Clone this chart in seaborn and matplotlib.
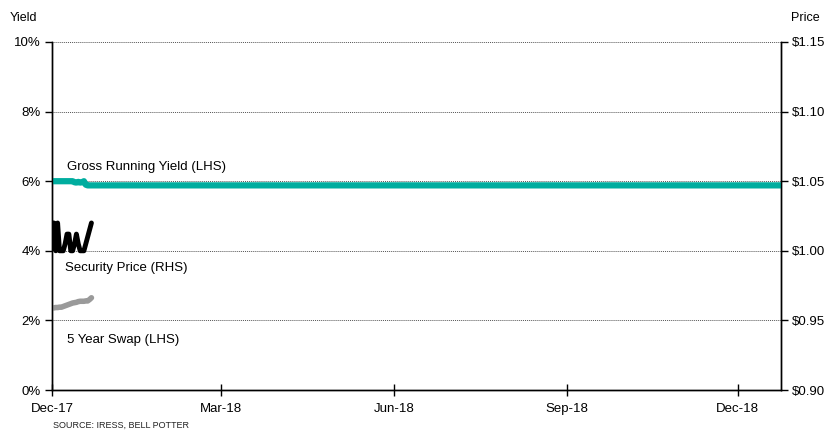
import pandas as pd
import seaborn as sns
import matplotlib.pyplot as plt
from matplotlib.ticker import FuncFormatter

# Early daily readings (Dec 2017)
early_dates = pd.date_range("2017-12-01", "2017-12-22", freq="D")
price = [1.020, 1.020, 1.000, 1.020, 1.000, 1.000, 1.000, 1.005, 1.012, 1.012, 1.000,
         1.000, 1.005, 1.012, 1.005, 1.000, 1.000, 1.000, 1.005, 1.010, 1.015, 1.020]
swap = [2.36, 2.36, 2.37, 2.37, 2.38, 2.38, 2.40, 2.42, 2.44, 2.46, 2.48,
        2.50, 2.51, 2.52, 2.54, 2.55, 2.55, 2.55, 2.56, 2.56, 2.60, 2.65]
yield_early = [6.00, 6.00, 6.00, 6.00, 6.00, 6.00, 6.00, 6.00, 6.00, 6.00, 6.00,
               6.00, 5.97, 5.96, 5.98, 5.96, 5.97, 6.00, 5.90, 5.88, 5.88, 5.88]
# Gross running yield held flat for the rest of the period
yield_late_dates = pd.to_datetime(["2018-12-24"])
yield_late = [5.88]

tick_dates = pd.to_datetime(["2017-12-01", "2018-03-01", "2018-06-01", "2018-09-01", "2018-12-01"])
tick_labels = ["Dec-17", "Mar-18", "Jun-18", "Sep-18", "Dec-18"]

df_short = pd.DataFrame({"date": early_dates, "price": price, "swap": swap})
df_yield = pd.DataFrame({
    "date": list(early_dates) + list(yield_late_dates),
    "yield": yield_early + yield_late,
})

sns.set_style("white")
plt.rcParams["font.family"] = ["Liberation Sans", "DejaVu Sans"]
plt.rcParams["text.color"] = "black"
plt.rcParams["xtick.color"] = "black"
plt.rcParams["ytick.color"] = "black"

fig = plt.figure(figsize=(8.29, 4.32), dpi=100)
ax = fig.add_axes([0.0627, 0.0972, 0.8793, 0.8056])
ax2 = ax.twinx()

sns.lineplot(data=df_yield, x="date", y="yield", ax=ax, color="#00ad9f", lw=4.5, zorder=3)
sns.lineplot(data=df_short, x="date", y="swap", ax=ax, color="#9a9a9a", lw=4, zorder=3)
sns.lineplot(data=df_short, x="date", y="price", ax=ax2, color="black", lw=3.5, zorder=3)

ax.set_xlim(pd.Timestamp("2017-12-01"), pd.Timestamp("2018-12-24"))
ax.set_ylim(0, 10)
ax.set_yticks([0, 2, 4, 6, 8, 10])
ax.yaxis.set_major_formatter(FuncFormatter(lambda v, p: f"{v:.0f}%"))
ax2.set_ylim(0.90, 1.15)
ax2.set_yticks([0.90, 0.95, 1.00, 1.05, 1.10, 1.15])
ax2.yaxis.set_major_formatter(FuncFormatter(lambda v, p: f"${v:.2f}"))

ax.set_xticks(tick_dates)
ax.set_xticklabels(tick_labels)

for a in (ax, ax2):
    a.set_xlabel("")
    a.set_ylabel("")
    a.spines["top"].set_visible(False)
    for s in ("left", "right", "bottom"):
        a.spines[s].set_color("black")
        a.spines[s].set_linewidth(1.0)

ax.grid(axis="y", color="#555555", linestyle=(0, (1, 1)), lw=0.7)
ax.set_axisbelow(True)
ax.tick_params(axis="y", direction="out", length=5, width=1, labelsize=9.5, pad=3, left=True)
ax.tick_params(axis="x", direction="inout", length=9, width=1, labelsize=9.5, pad=5, bottom=True)
ax2.tick_params(axis="y", direction="out", length=5, width=1, labelsize=9.5, pad=3, right=True)

ax.text(pd.Timestamp("2017-12-09"), 6.41, "Gross Running Yield (LHS)", fontsize=9.5, va="center")
ax.text(pd.Timestamp("2017-12-08"), 3.5, "Security Price (RHS)", fontsize=9.5, va="center")
ax.text(pd.Timestamp("2017-12-09"), 1.44, "5 Year Swap (LHS)", fontsize=9.5, va="center")

fig.text(0.012, 0.958, "Yield", fontsize=9, va="center")
fig.text(0.954, 0.958, "Price", fontsize=9, va="center")
fig.text(0.064, 0.004, "SOURCE: IRESS, BELL POTTER", fontsize=6.5, va="bottom", color="#222222")

fig.savefig("out.png", dpi=100)
